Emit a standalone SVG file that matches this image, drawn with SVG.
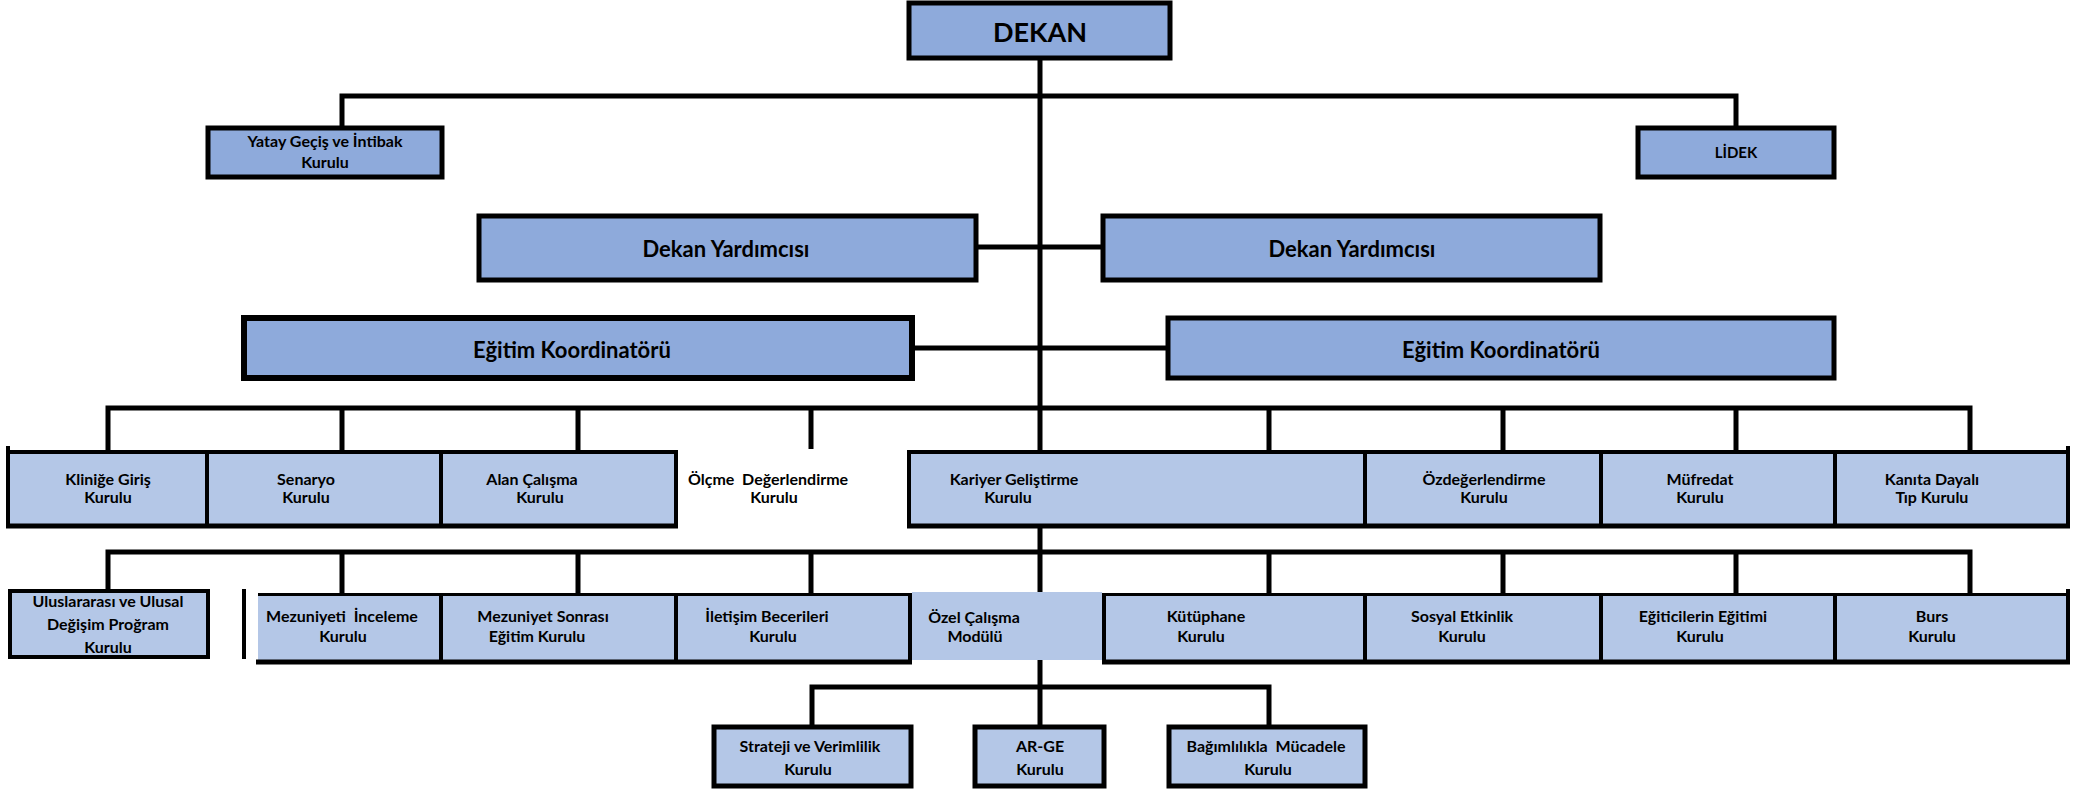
<svg xmlns="http://www.w3.org/2000/svg" width="2096" height="790" viewBox="0 0 2096 790">
<style>
.dk{fill:#8eaadb;stroke:#000;stroke-width:5}
.lt{fill:#b4c7e7;stroke:#000;stroke-width:4}
.fl{fill:#b4c7e7;stroke:none}
.ln{stroke:#000;stroke-width:5;fill:none}
.bd{stroke:#000;stroke-width:4;fill:none}
text{font-family:Lato,"Open Sans","Liberation Sans",sans-serif;font-weight:bold;fill:#000;text-anchor:middle}
.s{font-size:16px}
.m{font-size:22px}
.pre{white-space:pre}
</style>
<rect width="2096" height="790" fill="#fff"/>
<g id="connectors">
<path class="ln" d="M1040 58V725"/>
<path class="ln" d="M342 128V96H1736V128"/>
<path class="ln" d="M976 247H1103"/>
<path class="ln" d="M912 348H1168"/>
<path class="ln" d="M108 450V408H1970V450M342 408V450M578 408V450M811 408V449M1269 408V450M1503 408V450M1736 408V450"/>
<path class="ln" d="M108 590V552H1970V593M342 552V593M578 552V593M811 552V593M1269 552V593M1503 552V593M1736 552V593"/>
<path class="ln" d="M812 725V687H1269V725"/>
</g>
<g id="dekan">
<rect class="dk" x="909" y="3" width="261" height="55"/>
<text x="1040" y="42" style="font-size:27px">DEKAN</text>
</g>
<g id="yatay">
<rect class="dk" x="208" y="128" width="234" height="49"/>
<text class="s" x="325" y="147">Yatay Geçiş ve İntibak</text>
<text class="s" x="325" y="168">Kurulu</text>
</g>
<g id="lidek">
<rect class="dk" x="1638" y="128" width="196" height="49"/>
<text x="1736" y="158" style="font-size:15px">LİDEK</text>
</g>
<g id="dekan-yardimcisi-1">
<rect class="dk" x="479" y="216" width="497" height="64"/>
<text class="m" x="726" y="257">Dekan Yardımcısı</text>
</g>
<g id="dekan-yardimcisi-2">
<rect class="dk" x="1103" y="216" width="497" height="64"/>
<text class="m" x="1352" y="257">Dekan Yardımcısı</text>
</g>
<g id="egitim-koordinatoru-1">
<rect class="dk" x="244" y="318" width="668" height="60" style="stroke-width:6"/>
<text class="m" x="572" y="358">Eğitim Koordinatörü</text>
</g>
<g id="egitim-koordinatoru-2">
<rect class="dk" x="1168" y="318" width="666" height="60"/>
<text class="m" x="1501" y="358">Eğitim Koordinatörü</text>
</g>
<g id="row1-left-frame">
<rect class="fl" x="8" y="451" width="668" height="75"/>
<path class="bd" d="M8 446V526M207 451V526M441 451V526M676 451V526"/>
<path class="bd" d="M6 452H678"/>
<path class="ln" d="M6 526H678"/>
</g>
<g id="klinige-giris">
<text class="s" x="108" y="485">Kliniğe Giriş</text>
<text class="s" x="108" y="503">Kurulu</text>
</g>
<g id="senaryo">
<text class="s" x="306" y="485">Senaryo</text>
<text class="s" x="306" y="503">Kurulu</text>
</g>
<g id="alan-calisma">
<text class="s" x="532" y="485">Alan Çalışma</text>
<text class="s" x="540" y="503">Kurulu</text>
</g>
<g id="olcme-degerlendirme">
<text class="s pre" x="768" y="485">Ölçme  Değerlendirme</text>
<text class="s" x="774" y="503">Kurulu</text>
</g>
<g id="row1-right-frame">
<rect class="fl" x="909" y="451" width="1159" height="75"/>
<path class="bd" d="M909 451V526M1365 451V526M1601 451V526M1835 451V526M2068 446V526"/>
<path class="bd" d="M907 452H2070"/>
<path class="ln" d="M907 526H2070"/>
</g>
<g id="kariyer">
<text class="s" x="1014" y="485">Kariyer Geliştirme</text>
<text class="s" x="1008" y="503">Kurulu</text>
</g>
<g id="ozdegerlendirme">
<text class="s" x="1484" y="485">Özdeğerlendirme</text>
<text class="s" x="1484" y="503">Kurulu</text>
</g>
<g id="mufredat">
<text class="s" x="1700" y="485">Müfredat</text>
<text class="s" x="1700" y="503">Kurulu</text>
</g>
<g id="kanita-dayali">
<text class="s" x="1932" y="485">Kanıta Dayalı</text>
<text class="s" x="1932" y="503">Tıp Kurulu</text>
</g>
<g id="uluslararasi">
<rect class="lt" x="10" y="591" width="198" height="66"/>
<text class="s" x="108" y="607">Uluslararası ve Ulusal</text>
<text class="s" x="108" y="630">Değişim Proğram</text>
<text class="s" x="108" y="653">Kurulu</text>
</g>
<path class="bd" d="M244 589V659"/>
<g id="row2-left-frame">
<rect class="fl" x="258" y="594" width="652" height="68"/>
<path class="bd" d="M441 594V662M676 594V662M910 594V662"/>
<path class="bd" d="M258 594.5H912" style="stroke-width:3"/>
<path class="ln" d="M256 662H912"/>
</g>
<g id="mezuniyeti-inceleme">
<text class="s pre" x="342" y="622">Mezuniyeti  İnceleme</text>
<text class="s" x="343" y="642">Kurulu</text>
</g>
<g id="mezuniyet-sonrasi">
<text class="s" x="543" y="622">Mezuniyet Sonrası</text>
<text class="s" x="537" y="642">Eğitim Kurulu</text>
</g>
<g id="iletisim">
<text class="s" x="767" y="622">İletişim Becerileri</text>
<text class="s" x="773" y="642">Kurulu</text>
</g>
<g id="ozel-calisma">
<rect class="fl" x="912" y="592" width="190" height="68"/>
<text class="s" x="974" y="623">Özel Çalışma</text>
<text class="s" x="975" y="642">Modülü</text>
</g>
<g id="row2-right-frame">
<rect class="fl" x="1104" y="594" width="964" height="68"/>
<path class="bd" d="M1104 594V662M1365 594V662M1601 594V662M1835 594V662M2068 589V662"/>
<path class="bd" d="M1102 594.5H2070" style="stroke-width:3"/>
<path class="ln" d="M1102 662H2070"/>
</g>
<g id="kutuphane">
<text class="s" x="1206" y="622">Kütüphane</text>
<text class="s" x="1201" y="642">Kurulu</text>
</g>
<g id="sosyal-etkinlik">
<text class="s" x="1462" y="622">Sosyal Etkinlik</text>
<text class="s" x="1462" y="642">Kurulu</text>
</g>
<g id="egiticilerin-egitimi">
<text class="s" x="1703" y="622">Eğiticilerin Eğitimi</text>
<text class="s" x="1700" y="642">Kurulu</text>
</g>
<g id="burs">
<text class="s" x="1932" y="622">Burs</text>
<text class="s" x="1932" y="642">Kurulu</text>
</g>
<g id="strateji">
<rect class="lt" x="714" y="727" width="197" height="59" style="stroke-width:5"/>
<text class="s" x="810" y="752">Strateji ve Verimlilik</text>
<text class="s" x="808" y="775">Kurulu</text>
</g>
<g id="ar-ge">
<rect class="lt" x="975" y="727" width="129" height="59" style="stroke-width:5"/>
<text class="s" x="1040" y="752">AR-GE</text>
<text class="s" x="1040" y="775">Kurulu</text>
</g>
<g id="bagimlilik">
<rect class="lt" x="1169" y="727" width="196" height="59" style="stroke-width:5"/>
<text class="s pre" x="1266" y="752">Bağımlılıkla  Mücadele</text>
<text class="s" x="1268" y="775">Kurulu</text>
</g>
</svg>
